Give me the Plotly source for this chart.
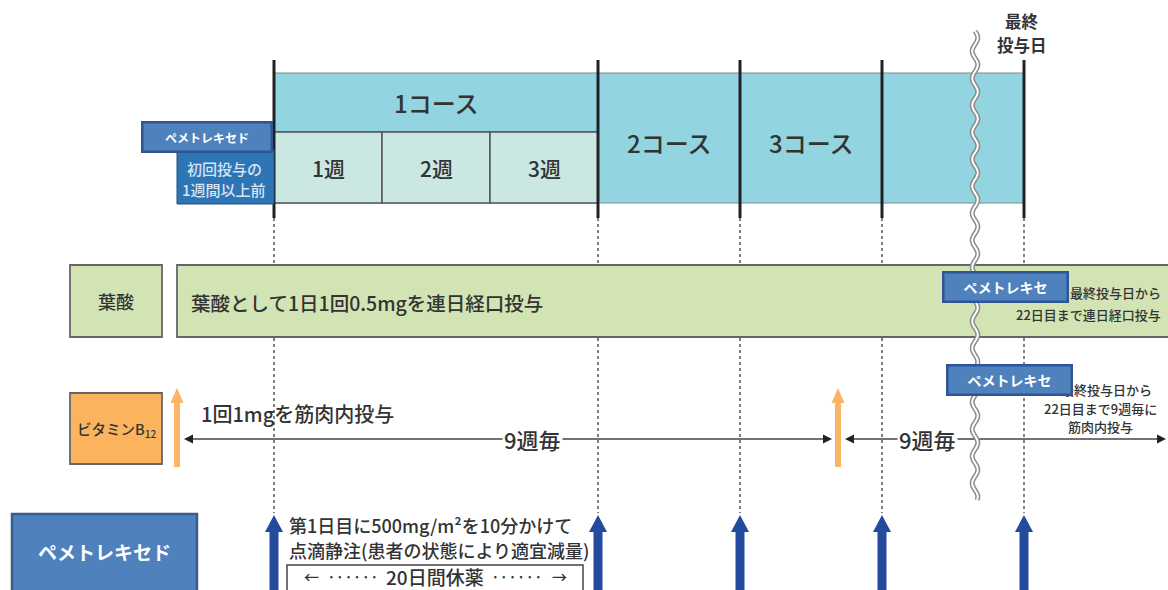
import numpy as np
import plotly.graph_objects as go

FONT = "Noto Sans CJK JP"
TXT = "#333333"

# ---- timeline data (positions along the schedule axis) ----
dose_x = [274, 598, 740, 882, 1024]          # pemetrexed doses (day 1 of each course, last dose)
week_edges = [274, 382, 490, 598]            # weeks of course 1
week_labels = ["1週", "2週", "3週"]
course_labels = ["1コース", "2コース", "3コース"]
b12_x = [177, 838]                           # vitamin B12 injections
break_x = 975                                # axis break
row_labels = ["葉酸", "ビタミンB<sub>12</sub>", "ペメトレキセド"]
folic_text = "葉酸として1日1回0.5mgを連日経口投与"
b12_text = "1回1mgを筋肉内投与"
interval_label = "9週毎"
pem_lines = ["第1日目に500mg/m²を10分かけて", "点滴静注(患者の状態により適宜減量)"]
rest_label = "20日間休薬"

fig = go.Figure()
fig.add_trace(go.Scatter(x=[0, 1168], y=[0, 590], mode="markers",
                         marker=dict(opacity=0), hoverinfo="skip", showlegend=False))

shapes = []
ann = []


def rect(x0, x1, y0, y1, fill, line="#666666", w=1.2):
    shapes.append(dict(type="rect", x0=x0, x1=x1, y0=y0, y1=y1, xref="x", yref="y",
                       fillcolor=fill, line=dict(color=line, width=w), layer="above"))


def seg(x0, y0, x1, y1, color="#222222", w=1.5, dash=None):
    d = dict(color=color, width=w)
    if dash:
        d["dash"] = dash
    shapes.append(dict(type="line", x0=x0, x1=x1, y0=y0, y1=y1, xref="x", yref="y",
                       line=d, layer="above"))


def poly(pts, fill, line=None, w=0):
    p = "M" + " L".join(f"{a},{b}" for a, b in pts) + " Z"
    shapes.append(dict(type="path", path=p, xref="x", yref="y", fillcolor=fill,
                       line=dict(color=line or fill, width=w), layer="above"))


def text(x, y, s, size=16, color=TXT, xa="center", ya="middle", bold=False, align="center",
         weight=500, **kw):
    ann.append(dict(x=x, y=y, xref="x", yref="y", text=f"<b>{s}</b>" if bold else s,
                    showarrow=False, xanchor=xa, yanchor=ya, align=align,
                    font=dict(family=FONT, size=size, color=color, weight=weight), **kw))


# ---- dashed guide lines ----
for x in dose_x:
    seg(x, 206, x, 513, color="#555555", w=1.5, dash="3px,3px")

# ---- course bar ----
rect(dose_x[0], dose_x[-1], 73, 203, "#92D4E0", "#7D8B8D", 1.2)
seg(dose_x[0], 132, dose_x[1], 132, "#555555", 1.5)
for i in range(3):
    rect(week_edges[i], week_edges[i + 1], 132, 203, "#CBE7E2", "#555555", 1.5)
    text((week_edges[i] + week_edges[i + 1]) / 2, 168, week_labels[i], size=21)
text((dose_x[0] + dose_x[1]) / 2, 102, course_labels[0], size=24)
for i in (1, 2):
    text((dose_x[i] + dose_x[i + 1]) / 2, 142, course_labels[i], size=24)
for x in dose_x:
    seg(x, 60, x, 218, "#222222", 3)

# pre-treatment box
rect(177, dose_x[0], 150, 204, "#2E75B6", "#1F4E79", 1)
text(224, 168, "初回投与の", size=15, color="#D6E4F4")
text(224, 189, "1週間以上前", size=15, color="#D6E4F4")

text(1022, 21, "最終", size=16.5, bold=True)
text(1022, 45, "投与日", size=16.5, bold=True)

# ---- folic acid row ----
rect(70, 162, 265, 337, "#D2E4B4", "#666666", 1.8)
rect(177, 1180, 265, 337, "#D2E4B4", "#666666", 1.8)
text(116, 301, row_labels[0], size=18)
text(189, 302, folic_text, size=19.5, xa="left")
text(1163, 292, "ド最終投与日から", size=13, xa="right")
text(1163, 314, "22日目まで連日経口投与", size=13, xa="right")

# ---- vitamin B12 row ----
rect(70, 162, 393, 464, "#FBB35E", "#666666", 1.8)
text(116, 429, row_labels[1], size=14.5)
text(199, 413, b12_text, size=20, xa="left")
line_y = 439
seg(b12_x[0] + 10, line_y, b12_x[1] - 10, line_y, "#444444", 1.3)
seg(b12_x[1] + 12, line_y, 1158, line_y, "#444444", 1.3)
for tip, d in ((b12_x[0] + 7, 1), (b12_x[1] - 6, -1), (b12_x[1] + 7, 1), (1166, -1)):
    poly([(tip, line_y), (tip + 9 * d, line_y - 4.5), (tip + 9 * d, line_y + 4.5)], "#222222")
for x in b12_x:
    rect(x - 3, x + 3, 400, 467, "#FBB566", "#FBB566", 0)
    poly([(x, 388), (x - 6.5, 403), (x + 6.5, 403)], "#FBB566")
text(532, line_y, interval_label, size=22, bgcolor="white", borderpad=1)
text(927, line_y, interval_label, size=22, bgcolor="white", borderpad=1)
text(1100, 389, "ド最終投与日から", size=13)
text(1100, 408, "22日目まで9週毎に", size=13)
text(1100, 426, "筋肉内投与", size=13)

# ---- pemetrexed row ----
rect(12, 197, 514, 600, "#4F81BD", "#385D8A", 2.5)
text(104, 551, row_labels[2], size=19, color="white", bold=True)
for x in dose_x:
    rect(x - 4.5, x + 4.5, 527, 600, "#244A9E", "#244A9E", 0)
    poly([(x, 515), (x - 9, 532), (x + 9, 532)], "#244A9E")
text(287, 525, pem_lines[0], size=18, xa="left")
text(287, 550, pem_lines[1], size=18, xa="left")
rect(287, 583, 565, 600, "white", "#444444", 1.5)
rest_mid = (287 + 583) / 2
text(rest_mid, 576, rest_label, size=19, borderpad=0)
text(rest_mid - 82, 576, "······", size=15, borderpad=0)
text(rest_mid + 82, 576, "······", size=15, borderpad=0)
text(rest_mid - 124, 576, "←", size=15, borderpad=0)
text(rest_mid + 124, 576, "→", size=15, borderpad=0)

# ---- axis break (wavy double line) ----
ys = np.linspace(31, 500, 240)
xs = break_x + 2.8 * np.sin(2 * np.pi * (ys - 31) / 27)
wp = "M" + " L".join(f"{a:.2f},{b:.2f}" for a, b in zip(xs, ys))
shapes.append(dict(type="path", path=wp, xref="x", yref="y",
                   line=dict(color="#8A8A8A", width=5), layer="above"))
shapes.append(dict(type="path", path=wp, xref="x", yref="y",
                   line=dict(color="white", width=2), layer="above"))

# ---- overlay labels (drawn on top) ----
ovl = dict(bgcolor="#4F81BD", bordercolor="#2F5597", borderwidth=2.5, borderpad=0)
text(207, 137, "ペメトレキセド", size=12, color="white", bold=True, width=127, height=27, **ovl)
text(1005, 287, "ペメトレキセ", size=14, color="white", bold=True, width=122, height=27, **ovl)
text(1009, 380, "ペメトレキセ", size=14, color="white", bold=True, width=122, height=27, **ovl)

fig.update_layout(
    width=1168, height=590, margin=dict(l=0, r=0, t=0, b=0),
    paper_bgcolor="white", plot_bgcolor="white", showlegend=False,
    xaxis=dict(range=[0, 1168], visible=False, fixedrange=True),
    yaxis=dict(range=[590, 0], visible=False, fixedrange=True),
    shapes=shapes, annotations=ann,
)
fig.write_html("out.html", config=dict(displayModeBar=False),
               post_script="document.body.style.margin='0px';document.body.style.overflow='hidden';")
